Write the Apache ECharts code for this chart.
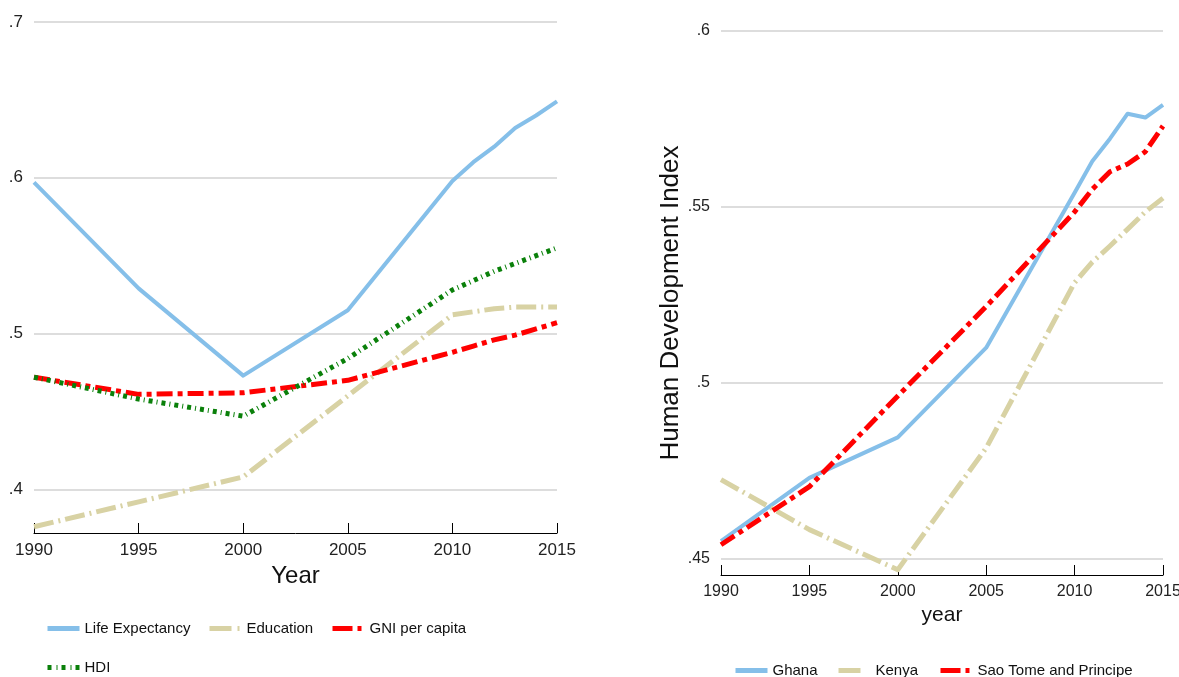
<!DOCTYPE html>
<html><head><meta charset="utf-8">
<script src="https://cdn.jsdelivr.net/npm/echarts@6/dist/echarts.min.js"></script>
<style>html,body{margin:0;padding:0;background:#fff}#c{width:1179px;height:677px}</style>
</head><body><div id="c"></div>
<script>
// ---- Left panel data ----
const yearsL = [1990, 1995, 2000, 2005, 2010, 2011, 2012, 2013, 2014, 2015];
const lifeExpectancy = [0.597, 0.529, 0.473, 0.515, 0.598, 0.610, 0.620, 0.632, 0.640, 0.649];
const education      = [0.376, 0.392, 0.408, 0.460, 0.512, 0.514, 0.516, 0.517, 0.517, 0.517];
const gniPerCapita   = [0.472, 0.461, 0.462, 0.470, 0.488, 0.492, 0.496, 0.499, 0.503, 0.507];
const hdiLeft        = [0.472, 0.458, 0.447, 0.484, 0.528, 0.534, 0.540, 0.545, 0.550, 0.555];
const yTicksL = [0.4, 0.5, 0.6, 0.7];

// ---- Right panel data ----
const yearsR = [1990, 1995, 2000, 2005, 2010, 2011, 2012, 2013, 2014, 2015];
const ghana    = [0.455, 0.473, 0.4845, 0.510, 0.554, 0.563, 0.5694, 0.5765, 0.5754, 0.579];
const kenya    = [0.4725, 0.4583, 0.4469, 0.4815, 0.5285, 0.5343, 0.5389, 0.5437, 0.5486, 0.5525];
const saoTome  = [0.454, 0.4705, 0.4963, 0.5217, 0.5486, 0.555, 0.560, 0.5622, 0.5657, 0.573];
const yTicksR = [0.45, 0.5, 0.55, 0.6];

const SANS = "'Liberation Sans', Arial, sans-serif";

const C_BLUE = '#85BFE9', C_BEIGE = '#D8D2A4', C_RED = '#FF0000', C_GREEN = '#0A800A';

function pairs(xs, ys) { return xs.map((x, i) => [x, ys[i]]); }
const fmt = v => String(+v.toFixed(3)).replace(/^0/, '');

function xAxis(gi, name, nameSize, nameGap, fs) {
  return {
    type: 'value', gridIndex: gi, min: 1990, max: 2015, interval: 5,
    name: name, nameLocation: 'middle', nameGap: nameGap,
    nameTextStyle: { fontFamily: SANS, fontSize: nameSize, color: '#111' },
    axisLine: { show: true, lineStyle: { color: '#000', width: 1 } },
    axisTick: { show: true, inside: true, length: 10, lineStyle: { color: '#000' } },
    axisLabel: { fontFamily: SANS, fontSize: fs, color: '#222', margin: 9, formatter: v => String(v) },
    splitLine: { show: false }
  };
}
function yAxis(gi, min, max, ticks, fs, name) {
  return {
    type: 'value', gridIndex: gi, min: min, max: max,
    name: name || '', nameLocation: 'middle', nameGap: 37,
    nameTextStyle: { fontFamily: SANS, fontSize: 26, color: '#111' },
    axisLine: { show: false },
    axisTick: { show: false, customValues: ticks },
    axisLabel: { customValues: ticks, formatter: fmt, fontFamily: SANS, fontSize: fs, color: '#222', margin: 11 },
    splitLine: { show: true, lineStyle: { color: '#DDDDDD', width: 2 } }
  };
}
function line(name, xi, yi, data, color, width, dash) {
  return {
    name: name, type: 'line', xAxisIndex: xi, yAxisIndex: yi, data: data,
    showSymbol: false, symbol: 'none', smooth: false, animation: false,
    lineStyle: { color: color, width: width, type: dash || 'solid', cap: 'butt', join: 'round' },
    itemStyle: { color: color }
  };
}
function legend(name, left, cy, w, dash) {
  return {
    data: [name], left: left, top: cy - 9, padding: 0, itemGap: 0,
    itemWidth: 32, itemHeight: 18,
    itemStyle: { opacity: 0 },
    lineStyle: { width: w, type: dash || 'solid', cap: 'butt' },
    textStyle: { fontFamily: SANS, fontSize: 15, color: '#111' }
  };
}

const DASH_EDU = [20, 5, 2, 5];
const DASH_GNI = [16, 5, 5, 5];
const DASH_HDI = [4, 4, 1, 4];

const option = {
  backgroundColor: '#fff',
  animation: false,
  grid: [
    { left: 34, top: 22, width: 523, height: 511, outerBoundsMode: 'none', containLabel: false },
    { left: 721, top: 31, width: 442, height: 544, outerBoundsMode: 'none', containLabel: false }
  ],
  xAxis: [
    xAxis(0, 'Year', 24, 20, 17),
    xAxis(1, 'year', 21, 22, 16)
  ],
  yAxis: [
    yAxis(0, 0.372, 0.7, yTicksL, 17),
    yAxis(1, 0.4454, 0.6, yTicksR, 16, 'Human Development Index')
  ],
  legend: [
    legend('Life Expectancy', 45, 630, 5),
    legend('Education', 207, 630, 5, [22, 6, 2, 4]),
    legend('GNI per capita', 330, 630, 5, [20, 5, 4, 5]),
    legend('HDI', 45, 669, 5, [4, 5, 1, 4]),
    legend('Ghana', 733, 672, 5),
    legend('Kenya', 836, 672, 5, [22, 10]),
    legend('Sao Tome and Principe', 938, 672, 5, [20, 5, 4, 5])
  ],
  series: [
    line('Life Expectancy', 0, 0, pairs(yearsL, lifeExpectancy), C_BLUE, 4),
    line('Education', 0, 0, pairs(yearsL, education), C_BEIGE, 5, DASH_EDU),
    line('GNI per capita', 0, 0, pairs(yearsL, gniPerCapita), C_RED, 5, DASH_GNI),
    line('HDI', 0, 0, pairs(yearsL, hdiLeft), C_GREEN, 5, DASH_HDI),
    line('Ghana', 1, 1, pairs(yearsR, ghana), C_BLUE, 4),
    line('Kenya', 1, 1, pairs(yearsR, kenya), C_BEIGE, 5, DASH_EDU),
    line('Sao Tome and Principe', 1, 1, pairs(yearsR, saoTome), C_RED, 5, DASH_GNI)
  ]
};

const chart = echarts.init(document.getElementById('c'), null, { renderer: 'canvas' });
chart.setOption(option);
</script>
</body></html>
